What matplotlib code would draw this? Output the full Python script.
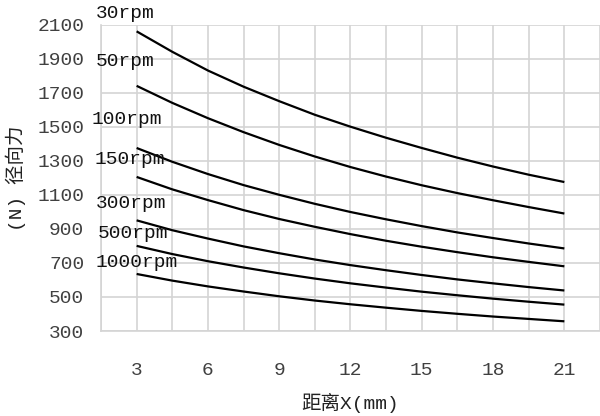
import matplotlib
matplotlib.use("Agg")
import matplotlib.pyplot as plt

# distance X (mm)
x = [3, 4.5, 6, 7.5, 9, 10.5, 12, 13.5, 15, 16.5, 18, 19.5, 21]

rpm_30 = [2060, 1940, 1830, 1735, 1650, 1570, 1500, 1435, 1375, 1318, 1266, 1218, 1175]
rpm_50 = [1740, 1640, 1550, 1468, 1393, 1325, 1263, 1207, 1156, 1110, 1068, 1028, 990]
rpm_100 = [1375, 1294, 1222, 1157, 1100, 1047, 999, 956, 916, 879, 846, 814, 785]
rpm_150 = [1205, 1132, 1069, 1010, 958, 912, 869, 830, 795, 763, 733, 706, 680]
rpm_300 = [950, 892, 843, 797, 757, 720, 687, 657, 629, 603, 580, 558, 538]
rpm_500 = [800, 752, 710, 673, 639, 608, 580, 555, 531, 510, 490, 472, 455]
rpm_1000 = [635, 596, 562, 532, 504, 479, 457, 437, 418, 401, 385, 371, 357]

labels = ["30rpm", "50rpm", "100rpm", "150rpm", "300rpm", "500rpm", "1000rpm"]
series = [rpm_30, rpm_50, rpm_100, rpm_150, rpm_300, rpm_500, rpm_1000]

# label offsets from first point, in pixels
offsets = [(-41, 18), (-41, 24), (-45, 28), (-42, 17), (-41, 17), (-39, 12), (-41, 11)]

x_ticks = [3, 6, 9, 12, 15, 18, 21]
y_ticks = [300, 500, 700, 900, 1100, 1300, 1500, 1700, 1900, 2100]

mono = "Liberation Mono"
mixed = ["Liberation Mono", "Noto Sans CJK SC", "DejaVu Sans"]

fig = plt.figure(figsize=(6, 4.16), dpi=100)
ax = fig.add_axes([0.1683, 0.2043, 0.8317, 0.7367])

for ys, lab, off in zip(series, labels, offsets):
    ax.plot(x, ys, color="black", lw=1.6, solid_capstyle="butt")
    ax.annotate(lab, (x[0], ys[0]), xytext=off, textcoords="offset pixels",
                ha="left", va="center", fontsize=14, family=mono,
                color="#111111", annotation_clip=False)

ax.set_xlim(1.5, 22.5)
ax.set_ylim(300, 2100)
ax.set_xticks(x_ticks)
ax.set_xticks([1.5 + 1.5 * i for i in range(15)], minor=True)
ax.set_yticks(y_ticks)
ax.grid(True, which="both", axis="x", color="#d4d4d4", lw=1.2)
ax.grid(True, which="major", axis="y", color="#d4d4d4", lw=1.2)
ax.set_axisbelow(True)

for s in ["top", "right"]:
    ax.spines[s].set_visible(False)
for s in ["left", "bottom"]:
    ax.spines[s].set_color("#d4d4d4")
    ax.spines[s].set_linewidth(1.2)

ax.tick_params(which="both", length=0)
ax.tick_params(axis="x", pad=22)
ax.tick_params(axis="y", pad=12)
for t in ax.get_xticklabels() + ax.get_yticklabels():
    t.set_fontfamily(mono)
    t.set_fontsize(14)
    t.set_color("#404040")

ax.set_xlabel("距离X(mm)", family=mixed, fontsize=14, color="#222222", labelpad=10)
ax.set_ylabel("(N) 径向力", family=mixed, fontsize=14, color="#222222", labelpad=8)

fig.savefig("out.png", dpi=100)
